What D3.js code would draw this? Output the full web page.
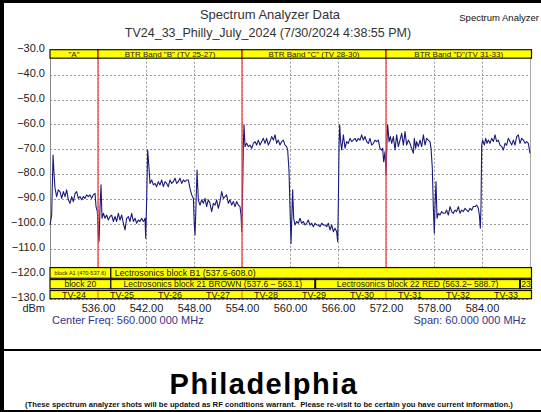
<!DOCTYPE html>
<html>
<head>
<meta charset="utf-8">
<script src="https://cdn.jsdelivr.net/npm/d3@7"></script>
<style>
  body { margin: 0; background: #fff; }
  svg { display: block; font-family: "Liberation Sans", Arial, sans-serif; }
</style>
</head>
<body>
<svg id="chart" width="541" height="412"></svg>
<script>
// sweep points (MHz / dBm)
var traceMHz = [
  530.00,530.21,530.38,530.50,530.63,530.83,531.04,531.25,531.46,531.67,531.88,532.08,532.29,532.50,532.71,532.92,533.13,533.33,533.54,533.75,533.96,534.17,534.38,534.58,534.79,535.00,535.21,535.42,535.63,535.75,535.92,536.04,536.13,536.25,536.38,536.50,
  536.67,536.88,537.08,537.29,537.50,537.71,537.92,538.13,538.33,538.54,538.75,538.96,539.17,539.38,539.58,539.79,540.00,540.21,540.42,540.63,540.83,541.04,541.25,541.46,541.67,541.79,541.88,541.96,542.08,542.21,542.38,542.50,
  542.71,542.92,543.13,543.33,543.54,543.75,543.96,544.17,544.38,544.58,544.79,545.00,545.21,545.42,545.63,545.83,546.04,546.25,546.46,546.67,546.88,547.08,547.29,547.50,547.71,547.92,548.04,548.13,548.25,548.38,548.54,
  548.75,548.96,549.17,549.38,549.58,549.79,550.00,550.21,550.42,550.63,550.83,551.04,551.25,551.46,551.67,551.88,552.08,552.29,552.50,552.71,552.92,553.13,553.33,553.54,553.75,553.88,553.96,554.04,554.17,554.25,
  554.38,554.58,554.79,555.00,555.21,555.42,555.63,555.83,556.04,556.25,556.46,556.67,556.88,557.08,557.29,557.50,557.71,557.92,558.13,558.33,558.54,558.75,558.96,559.17,559.38,559.58,559.71,559.88,560.00,560.13,560.21,560.33,
  560.46,560.63,560.83,561.04,561.25,561.46,561.67,561.88,562.08,562.29,562.50,562.71,562.92,563.13,563.33,563.54,563.75,563.96,564.17,564.38,564.58,564.79,565.00,565.21,565.42,565.63,565.83,565.96,566.04,566.13,566.21,566.33,566.46,
  566.67,566.88,567.08,567.29,567.50,567.71,567.92,568.13,568.33,568.54,568.75,568.96,569.17,569.38,569.58,569.79,570.00,570.21,570.42,570.63,570.83,571.04,571.25,571.46,571.58,571.71,571.88,572.00,572.13,572.21,
  572.38,572.54,572.71,572.92,573.13,573.33,573.54,573.75,573.96,574.17,574.38,574.58,574.79,575.00,575.21,575.42,575.54,575.71,575.83,576.04,576.25,576.46,576.67,576.88,577.08,577.29,577.50,577.63,577.79,577.92,578.04,578.13,578.25,
  578.38,578.54,578.75,578.96,579.17,579.38,579.58,579.79,580.00,580.21,580.42,580.63,580.83,581.04,581.25,581.46,581.67,581.88,582.08,582.29,582.50,582.71,582.92,583.13,583.33,583.54,583.67,583.79,583.88,583.96,
  584.08,584.29,584.46,584.63,584.79,585.00,585.21,585.42,585.63,585.83,586.04,586.25,586.46,586.67,586.88,587.08,587.29,587.50,587.71,587.92,588.13,588.33,588.54,588.75,588.96,589.17,589.38,589.58,589.79,590.00
];
var traceDbm = [
  -100.4,-96.4,-72.3,-79.6,-85.7,-89.0,-86.3,-87.0,-89.7,-87.0,-89.0,-86.3,-90.3,-91.7,-89.0,-91.0,-87.7,-87.0,-89.7,-89.0,-90.3,-89.0,-89.7,-88.3,-89.0,-88.3,-89.7,-88.3,-87.7,-93.0,-95.0,-104.4,-107.1,-93.7,-84.3,-97.7,
  -95.7,-97.7,-96.4,-98.4,-97.0,-96.4,-99.0,-97.0,-99.0,-95.7,-98.4,-96.4,-99.7,-102.4,-97.7,-97.0,-99.0,-95.7,-99.0,-97.7,-99.7,-98.4,-99.0,-97.7,-99.0,-98.4,-97.7,-105.7,-91.0,-70.3,-77.6,-83.7,
  -82.3,-84.3,-83.7,-85.0,-83.0,-84.3,-82.3,-85.0,-83.0,-83.7,-85.0,-82.3,-83.7,-83.0,-81.6,-83.7,-83.0,-81.6,-83.7,-82.3,-83.0,-82.3,-82.3,-85.7,-88.3,-89.7,-100.4,-104.4,-92.4,-78.3,-90.3,
  -92.4,-90.3,-91.7,-89.7,-93.0,-90.3,-91.7,-95.0,-91.7,-92.4,-90.3,-93.7,-91.0,-87.0,-89.7,-89.0,-88.3,-91.7,-90.3,-92.4,-91.0,-93.0,-91.0,-92.4,-93.0,-96.4,-103.1,-93.7,-68.3,-60.2,
  -68.9,-67.6,-68.9,-68.3,-69.6,-67.6,-66.9,-68.3,-66.3,-68.3,-66.9,-65.6,-67.6,-65.6,-68.3,-66.9,-64.9,-66.3,-64.2,-67.6,-66.3,-68.3,-66.9,-66.3,-68.3,-68.9,-70.3,-79.0,-93.7,-107.8,-99.0,-86.3,
  -97.7,-100.4,-99.0,-99.7,-97.7,-99.7,-99.0,-100.4,-99.7,-98.4,-100.4,-99.7,-101.1,-99.7,-100.4,-100.4,-101.1,-99.7,-100.4,-100.4,-101.1,-99.7,-102.4,-100.4,-103.1,-101.7,-103.1,-107.1,-92.4,-68.3,-60.2,-66.9,-70.3,
  -64.2,-69.6,-66.9,-67.6,-65.6,-66.9,-66.3,-65.6,-66.9,-65.6,-66.3,-64.2,-66.3,-64.9,-66.9,-67.6,-65.6,-68.3,-67.6,-66.3,-66.9,-66.3,-69.6,-70.3,-69.6,-75.0,-70.9,-80.3,-65.6,-60.2,
  -66.9,-64.9,-67.6,-64.9,-70.3,-64.2,-68.9,-66.3,-63.6,-68.3,-62.9,-68.3,-66.3,-67.6,-69.6,-71.6,-65.6,-69.6,-66.9,-68.9,-66.3,-68.9,-64.2,-68.3,-65.6,-66.3,-66.9,-69.6,-77.6,-93.7,-103.7,-92.4,-83.0,
  -97.7,-95.7,-96.4,-95.0,-95.7,-95.7,-94.4,-96.4,-93.0,-95.0,-95.7,-94.4,-95.0,-93.0,-95.7,-94.4,-95.0,-93.7,-94.4,-95.0,-93.7,-94.4,-93.0,-93.0,-92.4,-93.7,-96.4,-101.7,-92.4,-68.3,
  -66.3,-68.3,-65.6,-67.6,-66.3,-67.6,-65.6,-66.9,-64.2,-66.9,-66.3,-68.3,-68.9,-70.3,-67.6,-68.3,-65.6,-66.9,-68.3,-66.3,-68.3,-64.9,-64.2,-67.6,-65.6,-66.3,-67.6,-66.9,-67.6,-71.6
];

var yTicks = [-30, -40, -50, -60, -70, -80, -90, -100, -110, -120, -130];
var xTicks = [536, 542, 548, 554, 560, 566, 572, 578, 584];
var markerMHz = [536, 554, 572];

var topBandLabels = ['"A"', 'BTR Band "B" (TV 25-27)', 'BTR Band "C" (TV 28-30)', 'BTR Band "D"(TV 31-33)'];
var topBandStart = [530, 536, 554, 572];
var topBandEnd = [536, 554, 572, 590];

var row1Labels = ["block A1 (470-537.6)", "Lectrosonics block B1 (537.6-608.0)"];
var row1Start = [470, 537.6];
var row1End = [537.6, 608.0];

var row2Labels = ["block 20", "Lectrosonics block 21 BROWN (537.6 \u2013 563.1)", "Lectrosonics block 22 RED (563.2\u2013 588.7)", "23"];
var row2Start = [512.0, 537.6, 563.2, 588.8];
var row2End = [537.6, 563.1, 588.7, 614.3];

var tvLabels = ["TV-24", "TV-25", "TV-26", "TV-27", "TV-28", "TV-29", "TV-30", "TV-31", "TV-32", "TV-33"];
var tvStart = [530, 536, 542, 548, 554, 560, 566, 572, 578, 584];

var svg = d3.select("#chart");
var W = 541, H = 412;

var x = d3.scaleLinear().domain([530, 590]).range([50, 530]);
var y = d3.scaleLinear().domain([-130, -30]).range([298.7, 49.7]);

svg.append("rect").attr("width", W).attr("height", H).attr("fill", "#fff");

// frame
svg.append("rect").attr("x", 0).attr("y", 0).attr("width", 4).attr("height", H).attr("fill", "#000");
svg.append("rect").attr("x", 0).attr("y", 0).attr("width", W).attr("height", 3).attr("fill", "#000");
svg.append("rect").attr("x", 0).attr("y", 349).attr("width", W).attr("height", 2).attr("fill", "#000");
svg.append("rect").attr("x", 0).attr("y", 410).attr("width", W).attr("height", 2).attr("fill", "#000");

// titles
svg.append("text").attr("x", 270).attr("y", 19).attr("text-anchor", "middle")
  .attr("font-size", 13).attr("fill", "#333").text("Spectrum Analyzer Data");
svg.append("text").attr("x", 268).attr("y", 37).attr("text-anchor", "middle")
  .attr("font-size", 12.5).attr("fill", "#333").text("TV24_33_Philly_July_2024 (7/30/2024 4:38:55 PM)");
svg.append("text").attr("x", 539).attr("y", 21).attr("text-anchor", "end")
  .attr("font-size", 9.5).attr("fill", "#111").text("Spectrum Analyzer");

// grid
var grid = svg.append("g").attr("stroke", "#999").attr("stroke-dasharray", "2,2").attr("stroke-width", 1);
grid.selectAll("line.h").data(yTicks).enter().append("line")
  .attr("x1", x(530)).attr("x2", x(590))
  .attr("y1", function (d) { return Math.round(y(d)) + 0.5; })
  .attr("y2", function (d) { return Math.round(y(d)) + 0.5; });
grid.selectAll("line.v").data(xTicks).enter().append("line")
  .attr("y1", y(-30)).attr("y2", y(-130))
  .attr("x1", function (d) { return Math.round(x(d)) + 0.5; })
  .attr("x2", function (d) { return Math.round(x(d)) + 0.5; });

// plot frame
svg.append("line").attr("x1", 50.5).attr("x2", 50.5).attr("y1", y(-30)).attr("y2", y(-130)).attr("stroke", "#888");
svg.append("line").attr("x1", 530.5).attr("x2", 530.5).attr("y1", y(-30)).attr("y2", y(-130)).attr("stroke", "#aaa");

// axes labels
var yAxis = d3.axisLeft(y).tickValues(yTicks).tickSize(0).tickPadding(5).tickFormat(d3.format(".1f"));
var gy = svg.append("g").attr("transform", "translate(50,-1.8)").call(yAxis);
gy.select(".domain").remove();
gy.selectAll("text").attr("font-size", 11).attr("fill", "#222").attr("font-family", null);

var xAxis = d3.axisBottom(x).tickValues(xTicks).tickSize(0).tickPadding(4).tickFormat(d3.format(".2f"));
var gx = svg.append("g").attr("transform", "translate(0,300.5)").call(xAxis);
gx.select(".domain").remove();
gx.selectAll("text").attr("font-size", 11).attr("fill", "#222").attr("font-family", null);

svg.append("text").attr("x", 45).attr("y", 312).attr("text-anchor", "end")
  .attr("font-size", 11).attr("fill", "#222").text("dBm");
svg.append("text").attr("x", 52).attr("y", 324).attr("font-size", 11).attr("fill", "#34348a")
  .text("Center Freq: 560.000 000 MHz");
svg.append("text").attr("x", 526).attr("y", 324).attr("text-anchor", "end").attr("font-size", 11).attr("fill", "#34348a")
  .text("Span: 60.000 000 MHz");

// trace
var pts = traceMHz.map(function (f, i) { return [f, traceDbm[i]]; });
var line = d3.line().x(function (d) { return x(d[0]); }).y(function (d) { return y(d[1]); });
svg.append("path").datum(pts).attr("d", line).attr("fill", "none")
  .attr("stroke", "#1a1a7c").attr("stroke-width", 1.1).attr("stroke-linejoin", "round");

// red band markers
svg.selectAll("line.marker").data(markerMHz).enter().append("line")
  .attr("x1", function (d) { return x(d); }).attr("x2", function (d) { return x(d); })
  .attr("y1", y(-33.4)).attr("y2", y(-117.5))
  .attr("stroke", "#ff3b3b").attr("stroke-width", 1.3);

function clipX(v) { return x(Math.max(530, Math.min(590, v))); }

function drawRow(labels, starts, ends, top, bottom, fontSize) {
  var g = svg.append("g");
  var y0 = y(top), y1 = y(bottom);
  labels.forEach(function (lab, i) {
    var a = clipX(starts[i]), b = clipX(ends[i]);
    if (ends[i] >= 590) b = b + 1.5;
    g.append("rect").attr("x", a).attr("y", y0).attr("width", b - a).attr("height", y1 - y0)
      .attr("fill", "#ffff00").attr("stroke", "#111").attr("stroke-width", 1.2);
    g.append("text")
      .attr("x", (a + b) / 2)
      .attr("y", (y0 + y1) / 2 + fontSize * 0.36)
      .attr("text-anchor", "middle")
      .attr("font-size", fontSize)
      .attr("fill", "#2a2000")
      .text(lab);
  });
  return g;
}

// top band
drawRow(topBandLabels, topBandStart, topBandEnd, -30, -33.4, 8);
svg.selectAll("line.topsep").data(markerMHz).enter().append("line")
  .attr("x1", function (d) { return x(d); }).attr("x2", function (d) { return x(d); })
  .attr("y1", y(-30) + 0.8).attr("y2", y(-33.4) - 0.8)
  .attr("stroke", "#ff5a00").attr("stroke-width", 1.3);

// bottom rows
var r1 = svg.append("g");
(function () {
  var y0 = y(-117.5), y1 = y(-121.8);
  var a0 = clipX(row1Start[0]), b0 = clipX(row1End[0]);
  r1.append("rect").attr("x", a0).attr("y", y0).attr("width", b0 - a0).attr("height", y1 - y0)
    .attr("fill", "#ffff00").attr("stroke", "#111").attr("stroke-width", 1.2);
  r1.append("text").attr("x", (a0 + b0) / 2).attr("y", (y0 + y1) / 2 + 2).attr("text-anchor", "middle")
    .attr("font-size", 5.6).attr("fill", "#2a2000").text(row1Labels[0]);
  var a1 = clipX(row1Start[1]), b1 = clipX(row1End[1]) + 1.5;
  r1.append("rect").attr("x", a1).attr("y", y0).attr("width", b1 - a1).attr("height", y1 - y0)
    .attr("fill", "#ffff00").attr("stroke", "#111").attr("stroke-width", 1.2);
  r1.append("text").attr("x", a1 + 4).attr("y", (y0 + y1) / 2 + 3.2)
    .attr("font-size", 8.8).attr("fill", "#111").text(row1Labels[1]);
})();

drawRow(row2Labels, row2Start, row2End, -122.3, -126.0, 8.6);

var tvEnd = tvStart.map(function (s, i) { return i < tvStart.length - 1 ? tvStart[i + 1] : 590; });
var r3 = svg.append("g");
(function () {
  var y0 = y(-126.7), y1 = y(-130);
  r3.append("rect").attr("x", x(530)).attr("y", y0).attr("width", x(590) - x(530) + 1.5).attr("height", y1 - y0)
    .attr("fill", "#ffff00").attr("stroke", "#111").attr("stroke-width", 1.2);
  r3.selectAll("text").data(tvLabels).enter().append("text")
    .attr("x", function (d, i) { return (x(tvStart[i]) + x(tvEnd[i])) / 2; })
    .attr("y", (y0 + y1) / 2 + 3.2).attr("text-anchor", "middle")
    .attr("font-size", 9).attr("fill", "#2a2000").text(function (d) { return d; });
  r3.selectAll("line").data(markerMHz).enter().append("line")
    .attr("x1", function (d) { return x(d); }).attr("x2", function (d) { return x(d); })
    .attr("y1", y0 + 0.8).attr("y2", y1 - 0.8)
    .attr("stroke", "#ff7a00").attr("stroke-width", 1.3);
})();

// footer
svg.append("text").attr("x", 264).attr("y", 394).attr("text-anchor", "middle")
  .attr("font-size", 29).attr("font-weight", "bold").attr("letter-spacing", 1.5).attr("fill", "#000")
  .text("Philadelphia");
svg.append("text").attr("x", 269).attr("y", 407).attr("text-anchor", "middle")
  .attr("font-size", 7.7).attr("font-weight", "bold").attr("fill", "#111")
  .style("white-space", "pre")
  .text("(These spectrum analyzer shots will be updated as RF conditions warrant.  Please re-visit to be certain you have current information.)");
</script>
</body>
</html>
